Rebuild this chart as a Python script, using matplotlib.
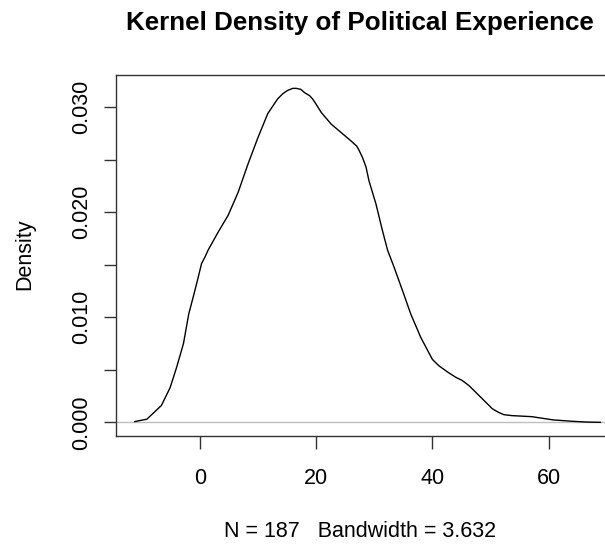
import matplotlib
matplotlib.use("Agg")
import matplotlib.pyplot as plt

plt.rcParams['font.family'] = ['Liberation Sans', 'DejaVu Sans']

title = "Kernel Density of Political Experience"
xlabel = "N = 187   Bandwidth = 3.632"
ylabel = "Density"

# density curve
xs = [-11.2, -9.1, -6.6, -5.1, -4.0, -2.8, -1.9, -0.86, -0.27, 0.3, 0.86, 1.44,
      3.15, 4.87, 6.6, 8.3, 10.0, 11.7, 13.4, 14.3, 15.1, 16.0, 16.6, 17.4,
      18.0, 18.9, 19.4, 20.0, 20.9, 22.6, 24.3, 26.0, 27.0, 27.4, 28.0, 28.6,
      29.1, 30.3, 31.4, 32.3, 33.4, 34.9, 36.3, 38.0, 40.0, 41.1, 42.6, 44.0,
      45.1, 46.3, 47.4, 49.4, 50.3, 51.4, 52.3, 53.7, 57.1, 60.8, 64.1, 66.5,
      68.9]
ys = [0.00007, 0.0003, 0.0016, 0.0033, 0.0052, 0.0075, 0.0103, 0.0125, 0.0138,
      0.0151, 0.0157, 0.0164, 0.0181, 0.0197, 0.0219, 0.0246, 0.0271, 0.0294,
      0.0308, 0.0313, 0.0316, 0.0318, 0.0318, 0.0317, 0.0314, 0.0311, 0.0308,
      0.0303, 0.0295, 0.0284, 0.0276, 0.0268, 0.0263, 0.0259, 0.0252, 0.0243,
      0.0230, 0.0208, 0.0183, 0.0164, 0.0148, 0.0125, 0.0103, 0.0081, 0.0060,
      0.0054, 0.0048, 0.0043, 0.0040, 0.0035, 0.0029, 0.0018, 0.0013, 0.00095,
      0.00073, 0.00064, 0.00054, 0.00023, 0.0001, 0.00003, 0.0]

xticks = [0, 20, 40, 60]
yticks = [0.000, 0.005, 0.010, 0.015, 0.020, 0.025, 0.030]
ytick_labels = ["0.000", "", "0.010", "", "0.020", "", "0.030"]

W, H = 605, 546
fig = plt.figure(figsize=(W / 100, H / 100), dpi=100)
left, right, top, bottom = 116, 619, 75, 435.7
ax = fig.add_axes([left / W, (H - bottom) / H, (right - left) / W, (bottom - top) / H])

ax.axhline(0, color='#BEBEBE', lw=1.0, zorder=1)
ax.plot(xs, ys, color='black', lw=1.0, zorder=2)

rng = max(xs) - min(xs)
ax.set_xlim(min(xs) - 0.04 * rng, max(xs) + 0.04 * rng)
ymax = max(ys)
ax.set_ylim(-0.04 * ymax, ymax * 1.04)

for s in ax.spines.values():
    s.set_color('#333333')
    s.set_linewidth(1.0)

FS = 15.5
ax.set_xticks(xticks)
ax.set_xticklabels([str(t) for t in xticks])
ax.set_yticks(yticks)
ax.set_yticklabels(ytick_labels, rotation=90, va='center')
ax.tick_params(axis='both', direction='out', length=9, width=1.0, color='#333333',
               labelsize=FS)
ax.tick_params(axis='x', pad=14.5)
ax.tick_params(axis='y', pad=8.3)

fig.text(360 / W, 1 - 30 / H, title, ha='center', va='baseline',
         fontsize=18.7, fontweight='bold')
fig.text(360 / W, 1 - 537 / H, xlabel, ha='center', va='baseline', fontsize=FS)
fig.text(25 / W, 1 - 254 / H, ylabel, ha='center', va='center', fontsize=FS,
         rotation=90)

fig.savefig("out.png", dpi=100)
